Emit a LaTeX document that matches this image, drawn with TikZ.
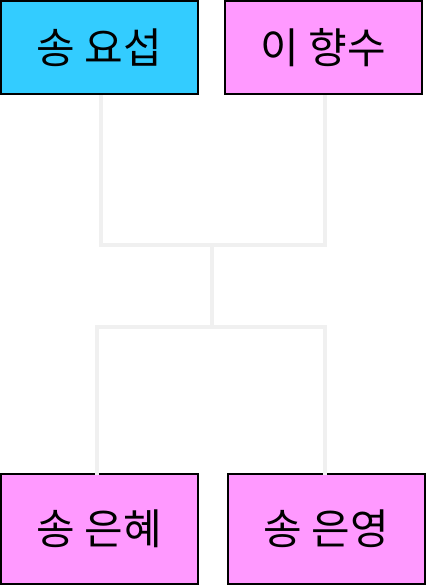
\documentclass[tikz,border=0pt]{standalone}
\usepackage{fontspec}
\newfontfamily\krfont{Noto Sans CJK KR}
\usetikzlibrary{positioning}
\definecolor{malecyan}{HTML}{33CCFF}
\definecolor{femalepink}{HTML}{FF99FF}
\definecolor{linkgray}{HTML}{F0F0F0}

\begin{document}
\begin{tikzpicture}[x=1pt,y=-1pt,every node/.style={font=\krfont\fontsize{42}{48}\selectfont},
  person/.style={draw,line width=2pt,minimum width=197pt,minimum height=93pt,inner sep=0pt},
  link/.style={draw=linkgray,line width=4pt}]
\useasboundingbox (0,0) rectangle (426,586);
\node[person,fill=malecyan] (yoseob) at (99.5,47.5) {송 요섭};
\node[person,fill=femalepink] (hyangsu) at (323.5,47.5) {이 향수};
\node[person,fill=femalepink,minimum height=110pt] (eunhye) at (99.5,529) {송 은혜};
\node[person,fill=femalepink,minimum height=110pt] (eunyoung) at (326,529) {송 은영};
\coordinate (couple) at (212,245);
\coordinate (family) at (212,327);
\draw[link] ([xshift=1pt]yoseob.south) |- (couple);\draw[link] ([xshift=1pt]hyangsu.south) |- (couple);
\draw[link] (couple) -- (family);
\draw[link] (family) -| ([xshift=-3pt,yshift=-2pt]eunhye.north);
\draw[link] (family) -| ([xshift=-1pt,yshift=-2pt]eunyoung.north);
\end{tikzpicture}
\end{document}
